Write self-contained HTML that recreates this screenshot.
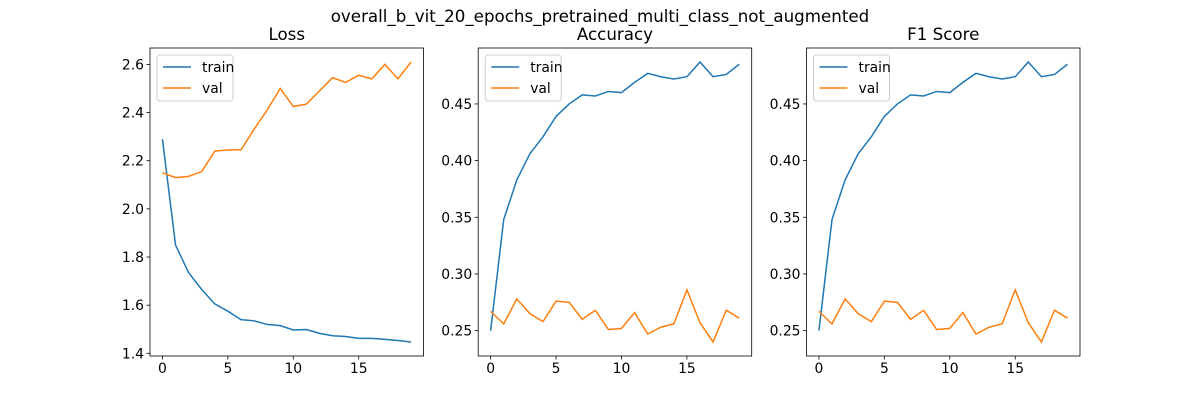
<!DOCTYPE html>
<html><head><meta charset="utf-8"><style>
body{margin:0;background:#fff}
svg text{font-family:"DejaVu Sans","Liberation Sans",sans-serif;fill:#000}
</style></head><body>
<svg id="fig" width="1200" height="400" xmlns="http://www.w3.org/2000/svg">
<text x="600" y="22" font-size="16.7" text-anchor="middle">overall_b_vit_20_epochs_pretrained_multi_class_not_augmented</text>
</svg>
<script>
const epochs = [0,1,2,3,4,5,6,7,8,9,10,11,12,13,14,15,16,17,18,19];
const lossTrain = [2.29,1.85,1.735,1.665,1.605,1.575,1.54,1.535,1.52,1.515,1.497,1.499,1.483,1.473,1.47,1.462,1.462,1.458,1.453,1.447];
const lossVal = [2.15,2.13,2.135,2.155,2.24,2.245,2.245,2.33,2.41,2.50,2.425,2.435,2.49,2.545,2.525,2.555,2.54,2.6,2.54,2.61];
const accTrain = [0.250,0.348,0.383,0.406,0.421,0.439,0.450,0.458,0.457,0.461,0.460,0.469,0.477,0.474,0.472,0.474,0.487,0.474,0.476,0.485];
const accVal = [0.267,0.256,0.278,0.265,0.258,0.276,0.275,0.260,0.268,0.251,0.252,0.266,0.247,0.253,0.256,0.286,0.257,0.240,0.268,0.261];
const f1Train = [0.250,0.348,0.383,0.406,0.421,0.439,0.450,0.458,0.457,0.461,0.460,0.469,0.477,0.474,0.472,0.474,0.487,0.474,0.476,0.485];
const f1Val = [0.267,0.256,0.278,0.265,0.258,0.276,0.275,0.260,0.268,0.251,0.252,0.266,0.247,0.253,0.256,0.286,0.257,0.240,0.268,0.261];
const xTicks = [0,5,10,15];
const lossTicks = ["1.4","1.6","1.8","2.0","2.2","2.4","2.6"];
const accTicks = ["0.25","0.30","0.35","0.40","0.45"];
const legendLabels = ["train","val"];

const NS="http://www.w3.org/2000/svg", svg=document.getElementById('fig');
function mk(tag,attrs,parent){const e=document.createElementNS(NS,tag);for(const k in attrs)e.setAttribute(k,attrs[k]);(parent||svg).appendChild(e);return e;}
const W=273.5, axTop=48, axBot=356;
function panel(x0,title,tr,va,ticks,name){
  const all=tr.concat(va);let mn=Math.min(...all),mx=Math.max(...all),m=(mx-mn)*0.05;mn-=m;mx+=m;
  const xs=v=>x0+(v+0.95)/20.9*W, ys=v=>axBot-(v-mn)/(mx-mn)*(axBot-axTop);
  const g=mk('g',{});
  
  
  const t=mk('text',{x:x0+W/2,y:axTop-8,'font-size':16.7,'text-anchor':'middle'},g);t.textContent=title;
  
  
  xTicks.forEach(v=>{const x=xs(v);mk('line',{x1:x,x2:x,y1:axBot,y2:axBot+3.5,stroke:'#000','stroke-width':0.8},g);
    const l=mk('text',{x:x,y:axBot+17,'font-size':13.9,'text-anchor':'middle'},g);l.textContent=v;
    
    });
  ticks.forEach(s=>{const y=ys(parseFloat(s));mk('line',{x1:x0-3.5,x2:x0,y1:y,y2:y,stroke:'#000','stroke-width':0.8},g);
    const l=mk('text',{x:x0-6,y:y+5,'font-size':13.9,'text-anchor':'end'},g);l.textContent=s;
    
    });
  [[tr,'#1f77b4','train'],[va,'#ff7f0e','val']].forEach(([d,c,n])=>{
    const p=mk('polyline',{points:d.map((v,i)=>xs(epochs[i])+','+ys(v)).join(' '),fill:'none',stroke:c,'stroke-width':1.5},g);
    
    });
  const r=mk('rect',{x:x0,y:axTop,width:W,height:axBot-axTop,fill:'none',stroke:'#000','stroke-width':0.8},g);
  
  
  const lg=mk('g',{},g);
  
  
  mk('rect',{x:x0+7,y:axTop+7,width:76,height:46,rx:3,fill:'#fff','fill-opacity':0.8,stroke:'#ccc','stroke-width':1},lg);
  legendLabels.forEach((s,i)=>{const y=axTop+19+i*21;
    mk('line',{x1:x0+13,x2:x0+41,y1:y,y2:y,stroke:i?'#ff7f0e':'#1f77b4','stroke-width':1.5},lg);
    const l=mk('text',{x:x0+52,y:y+5,'font-size':13.9},lg);l.textContent=s;
    
    });
}
panel(150,'Loss',lossTrain,lossVal,lossTicks,'loss');
panel(478.2,'Accuracy',accTrain,accVal,accTicks,'accuracy');
panel(806.5,'F1 Score',f1Train,f1Val,accTicks,'f1');
</script>
</body></html>
